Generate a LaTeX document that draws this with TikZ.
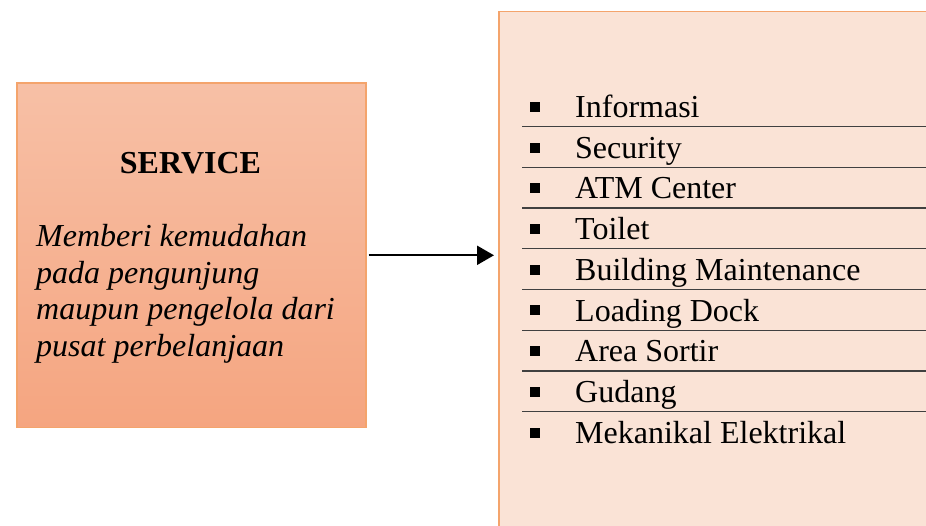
\documentclass[tikz,border=0pt]{standalone}
\usepackage{fontspec}
\setmainfont{Liberation Serif}
\usetikzlibrary{arrows.meta}
\definecolor{boxedge}{RGB}{244,164,108}
\definecolor{servtop}{RGB}{247,192,166}
\definecolor{servbot}{RGB}{245,165,128}
\definecolor{listfill}{RGB}{250,227,214}
\definecolor{rulegray}{RGB}{64,64,64}
\tikzset{
  servicebox/.style={draw=boxedge, line width=1.5pt, top color=servtop, bottom color=servbot,
    inner sep=0pt, anchor=north west},
  listbox/.style={draw=boxedge, line width=1.5pt, fill=listfill, inner sep=0pt, anchor=north west},
  flow/.style={-{Triangle[length=17pt,width=19pt]}, line width=2.2pt, shorten <=2pt, shorten >=4pt},
  titletext/.style={anchor=base, inner sep=0pt, font=\fontsize{32}{36}\selectfont\bfseries},
  desctext/.style={anchor=base west, inner sep=0pt, align=left, font=\fontsize{32}{36.7}\selectfont\itshape},
  itemtext/.style={anchor=base west, inner sep=0pt, font=\fontsize{32}{36}\selectfont},
  bulletmark/.style={fill=black, minimum size=10pt, inner sep=0pt},
  rowrule/.style={draw=rulegray, line width=1.3pt},
}
\begin{document}
\begin{tikzpicture}[x=1pt,y=-1pt]
  \useasboundingbox (0,0) rectangle (926,526);
  \clip (0,0) rectangle (926,526);

  % service box with its heading and description
  \node[servicebox, minimum width=349pt, minimum height=344.5pt] (service) at (16,82.3) {};
  \node[titletext] (title) at (190.5,173.5) {SERVICE};
  % base of a multi-line node is the baseline of its last line
  \node[desctext] (desc) at (36,356.5) {Memberi kemudahan\\pada pengunjung\\maupun pengelola dari\\pusat perbelanjaan};

  % facility list box (runs past the right and bottom edges)
  \node[listbox, minimum width=520pt, minimum height=600pt] (list) at (498,11) {};

  % connector
  \draw[flow] (service.east) -- (service.east -| list.west);

  % list entries
  \foreach \txt [count=\i] in {Informasi, Security, ATM Center, Toilet, Building Maintenance,
      Loading Dock, Area Sortir, Gudang, Mekanikal Elektrikal} {
    \pgfmathsetmacro{\yb}{117.6+(\i-1)*40.7}
    \node[bulletmark] (b\i) at (534.5,\yb-10.6) {};
    \node[itemtext] (t\i) at (575,\yb) {\txt};
  }
  % separators between entries
  \foreach \i in {1,...,8} {
    \pgfmathsetmacro{\yr}{126.7+(\i-1)*40.7}
    \draw[rowrule] (522,\yr) -- (940,\yr);
  }
\end{tikzpicture}
\end{document}
